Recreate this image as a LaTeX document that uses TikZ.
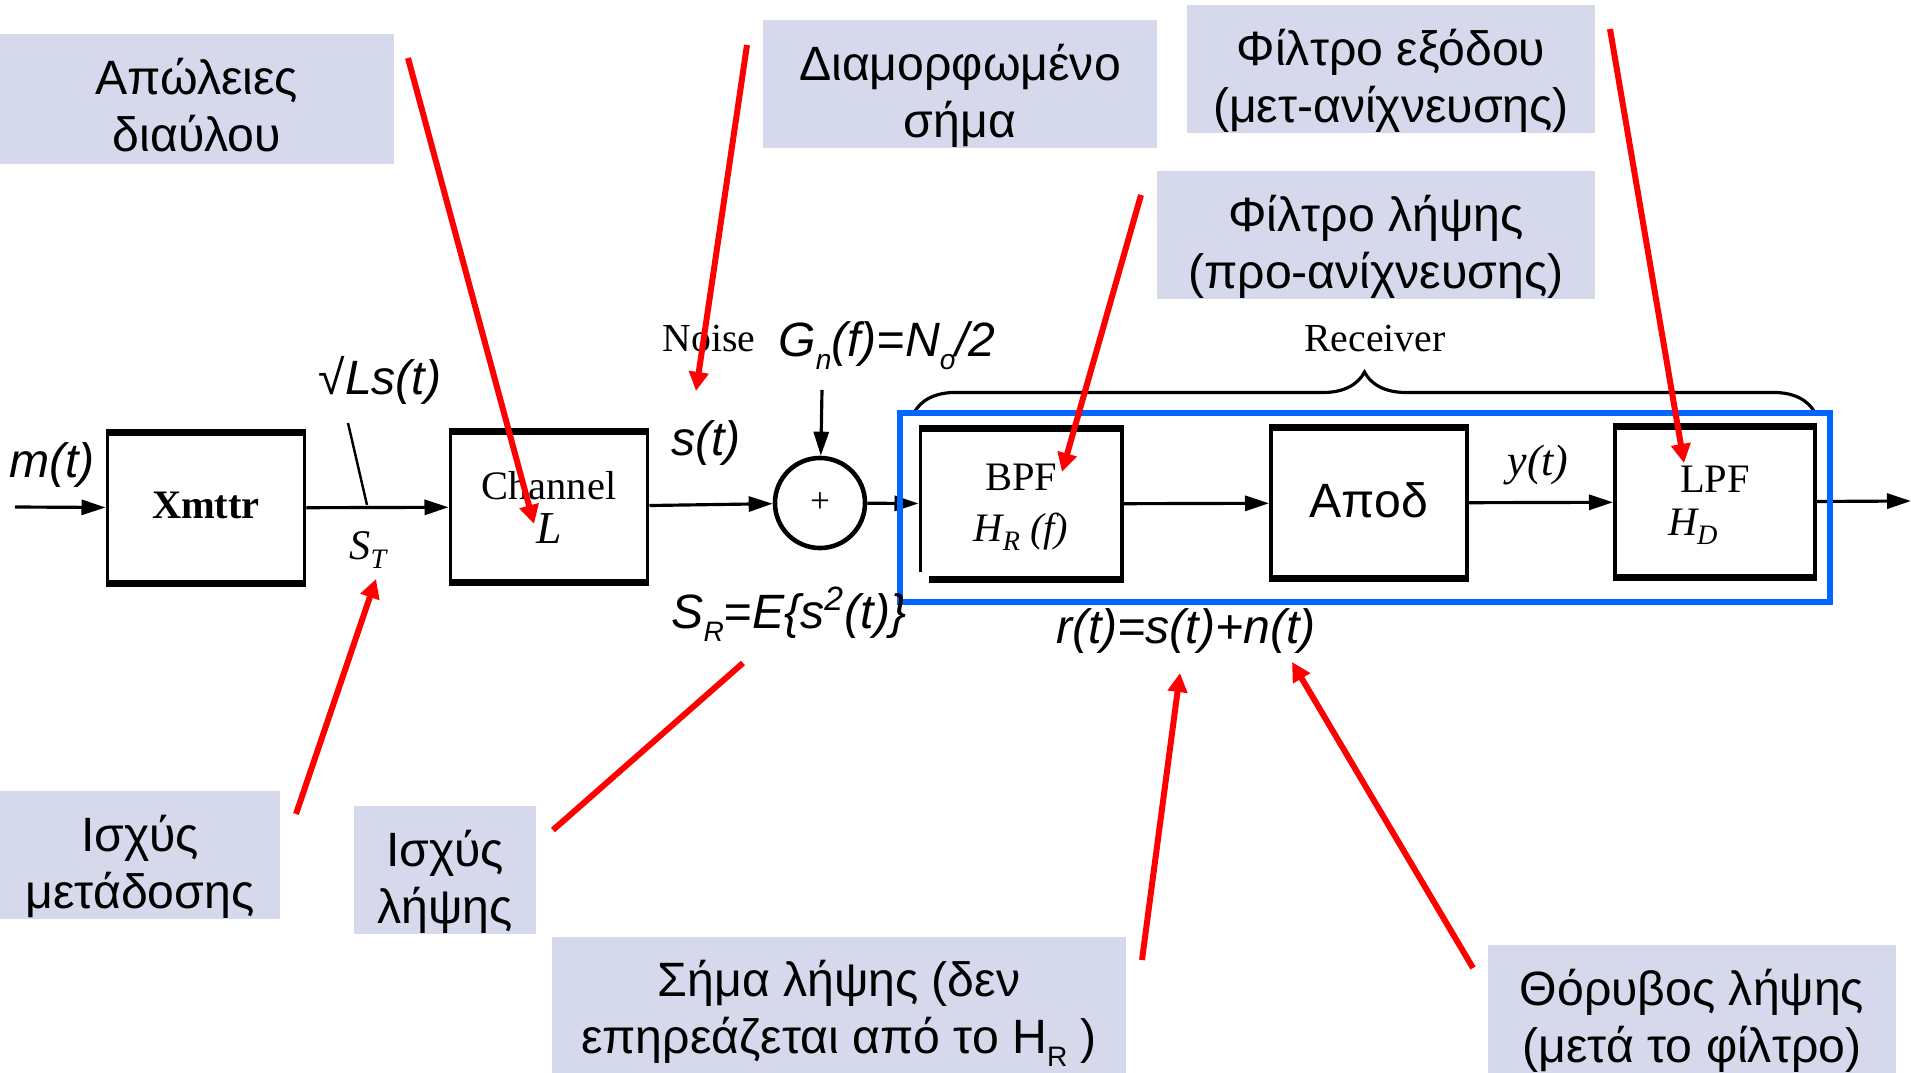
\documentclass[tikz,border=0pt]{standalone}
\usepackage{fontspec}
\usetikzlibrary{arrows.meta,decorations.pathreplacing}
\setmainfont{Liberation Sans}
\newfontfamily\scanfont{Liberation Serif}
\newcommand{\lowsub}[1]{\raisebox{-.5ex}{\footnotesize #1}}
\newcommand{\notedown}[1][16.8pt]{\rule{0pt}{#1}}
\definecolor{notefill}{HTML}{D6D8EC}
\definecolor{framecol}{HTML}{0066FF}
\tikzset{
note/.style={fill=notefill,inner sep=0pt,align=center,font=\fontsize{13.7}{16.2}\selectfont},
blockbox/.style={draw,line width=1.1pt,inner sep=0pt,align=center,minimum height=1.47cm,font=\scanfont\fontsize{11.5}{14.5}\selectfont},
bar/.style={line width=1.8pt},
wire/.style={line width=.9pt,-{Triangle[length=2.4mm,width=1.5mm]}},
redarrow/.style={red,line width=1.7pt,-{Triangle[length=1.9mm,width=1.9mm]}},
slanted/.style={inner sep=0pt,font=\itshape\fontsize{13.7}{16.2}\selectfont},
scan/.style={inner sep=0pt,font=\scanfont\fontsize{11.3}{13}\selectfont}
}
\begin{document}
\begin{tikzpicture}[x=.01cm,y=-.01cm]
\useasboundingbox (0,0) rectangle (1911,1073);
\node[blockbox,minimum width=1.97cm] (xmttr) at (206,508) {\raisebox{1.4pt}{\bfseries Xmttr}};
\node[blockbox,minimum width=1.97cm] (channel) at (549,507) {Channel\\[-2pt]\itshape\fontsize{13}{14}\selectfont L};
\node[draw,circle,line width=1.3pt,minimum size=.9cm,inner sep=0pt] (adder) at (820,503) {\scanfont\normalsize +};
\node[blockbox,minimum width=2.01cm] (bpf) at (1021,504) {\notedown[9.2pt]BPF\\\itshape H\lowsub{R} (f)};
\node[blockbox,minimum width=1.96cm,font=\fontsize{13.7}{16}\selectfont] (demod) at (1369,503) {\raisebox{1.4pt}{Αποδ}};
\node[blockbox,minimum width=2cm] (lpf) at (1715,502) {\notedown[9.5pt]LPF\\[-2.5pt]\mbox{\itshape H\lowsub{D}\hspace{1.1em}}};
\foreach \b in {xmttr,channel,bpf,demod,lpf}{
\draw[bar] (\b.north west) -- (\b.north east);
\draw[bar] (\b.south west) -- (\b.south east);
}
\fill[white] (916,572) rectangle (929,586);

\coordinate (input) at (15,507);
\coordinate (output) at (1911,501);
\coordinate (tap) at (348,423);
\coordinate (tapfoot) at (367,505);
\coordinate (noisein) at (822,390);
\draw[wire] (input) -- (xmttr);
\draw[wire] (xmttr) -- (channel);
\draw[wire] (channel) -- (adder);
\draw[wire] (adder) -- (bpf);
\draw[wire] (bpf) -- (demod);
\draw[wire] (demod) -- (lpf);
\draw[wire] (lpf) -- (output);
\draw[wire] (noisein) -- (adder);
\draw[line width=.7pt] (tap) -- (tapfoot);

\coordinate (bracel) at (914,413);
\coordinate (bracer) at (1815,413);
\draw[line width=.9pt,decorate,decoration={brace,amplitude=.41cm,aspect=.5}] (bracel) -- (bracer);
\coordinate (framea) at (900,413);
\coordinate (frameb) at (1830,602);
\draw[framecol,line width=1.7pt] (framea) rectangle (frameb);

\node[slanted] (mt) at (52,465) {m(t)};
\node[slanted] (ls) at (380,380) {√Ls(t)};
\node[scan,font=\scanfont\itshape\fontsize{12}{14}\selectfont] (st) at (368,550) {S\lowsub{T}};
\node[scan] (noiselbl) at (709,339) {Noise};
\node[slanted] (gn) at (887,346) {G\lowsub{n}(f)=N\lowsub{o}/2};
\node[slanted] (sig) at (706,443) {s(t)};
\node[slanted] (sr) at (789,614) {S\lowsub{R}=E\{s\textsuperscript{2}(t)\}};
\node[slanted] (rt) at (1186,631) {r(t)=s(t)+n(t)};
\node[scan,font=\scanfont\itshape\fontsize{12.5}{14}\selectfont] (yt) at (1538,465) {y(t)};
\node[scan] (recv) at (1375,339) {Receiver};

\node[note,minimum width=3.94cm,minimum height=1.29cm] (lossnote) at (197,99) {\notedown[14pt]Απώλειες\\διαύλου};
\node[note,minimum width=3.94cm,minimum height=1.27cm] (modnote) at (960,84) {\notedown Διαμορφωμένο\\σήμα};
\node[note,minimum width=4.08cm,minimum height=1.28cm] (outnote) at (1391,69) {\notedown Φίλτρο εξόδου\\(μετ-ανίχνευσης)};
\node[note,minimum width=4.38cm,minimum height=1.28cm] (rxnote) at (1376,235) {\notedown Φίλτρο λήψης\\(προ-ανίχνευσης)};
\node[note,minimum width=2.79cm,minimum height=1.27cm] (txpow) at (140,855) {\notedown Ισχύς\\μετάδοσης};
\node[note,minimum width=1.81cm,minimum height=1.28cm] (rxpow) at (445,870) {\notedown Ισχύς\\λήψης};
\node[note,minimum width=5.74cm,minimum height=1.36cm] (signote) at (839,1005) {\notedown[15pt]Σήμα λήψης (δεν\\επηρεάζεται από το H\lowsub{R} )};
\node[note,minimum width=4.07cm,minimum height=1.28cm] (noisenote) at (1692,1009) {\notedown Θόρυβος λήψης\\(μετά το φίλτρο)};

\coordinate (a1) at (408,58);
\coordinate (a2) at (534,524);
\coordinate (b1) at (747,45);
\coordinate (b2) at (696,391);
\coordinate (c1) at (1610,29);
\coordinate (c2) at (1684,463);
\coordinate (d1) at (1141,195);
\coordinate (d2) at (1062,472);
\coordinate (e1) at (296,814);
\coordinate (e2) at (376,579);
\coordinate (f1) at (553,830);
\coordinate (f2) at (743,663);
\coordinate (g1) at (1142,960);
\coordinate (g2) at (1180,673);
\coordinate (h1) at (1473,968);
\coordinate (h2) at (1292,662);
\draw[redarrow] (a1) -- (a2);
\draw[redarrow] (b1) -- (b2);
\draw[redarrow] (c1) -- (c2);
\draw[redarrow] (d1) -- (d2);
\draw[redarrow] (e1) -- (e2);
\draw[red,line width=1.7pt] (f1) -- (f2);
\draw[redarrow] (g1) -- (g2);
\draw[redarrow] (h1) -- (h2);
\end{tikzpicture}
\end{document}
